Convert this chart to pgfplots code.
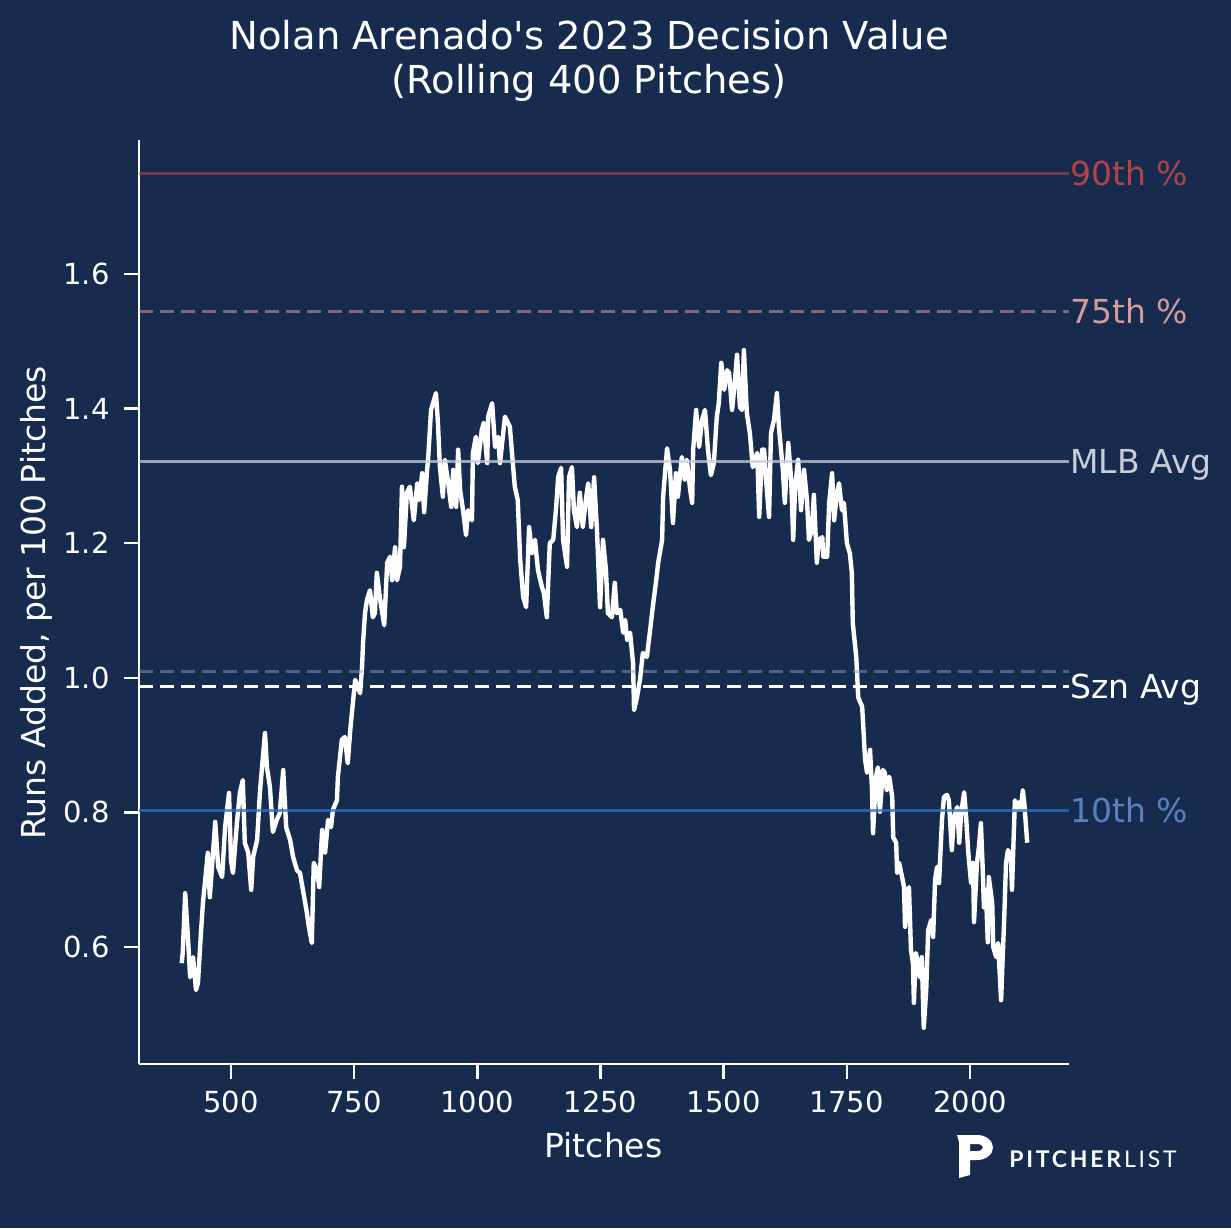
\documentclass[border=0pt]{standalone}
\usepackage{fontspec}
\setmainfont{DejaVu Sans}[Ligatures=TeXOff]
\newfontfamily\logofont[LetterSpace=12]{Lato}
\usepackage{pgfplots}
\pgfplotsset{compat=1.18}
\definecolor{bg}{RGB}{23,43,79}
\definecolor{ninetxt}{RGB}{178,68,72}
\definecolor{sevtxt}{RGB}{213,155,155}
\definecolor{mlbtxt}{RGB}{200,205,215}
\definecolor{tentxt}{RGB}{90,128,192}
\definecolor{tenline}{RGB}{50,110,200}
\definecolor{refline}{RGB}{130,155,200}
\begin{document}
\begin{tikzpicture}
\fill[bg] (0pt,0pt) rectangle (615.5pt,614pt);
\begin{axis}[
  at={(69.5pt,82pt)}, anchor=south west,
  scale only axis, width=465pt, height=462pt,
  xmin=313.3, xmax=2200.8, ymin=0.4262, ymax=1.7991,
  clip=false,
  axis x line*=bottom, axis y line*=left,
  axis line style={white, line width=1.25pt},
  every tick/.style={white, line width=1.25pt},
  tick align=outside, major tick length=7.5pt,
  xtick={500,750,1000,1250,1500,1750,2000},
  ytick={0.6,0.8,1.0,1.2,1.4,1.6},
  /pgf/number format/assume math mode=true,
  xticklabel style={font=\fontsize{14.5}{17}\selectfont, text=white, anchor=north, inner sep=0pt, yshift=-5.8pt,
    /pgf/number format/1000 sep={}},
  yticklabel style={font=\fontsize{14.5}{17}\selectfont, text=white, anchor=east, inner sep=0pt, xshift=-7pt,
    /pgf/number format/.cd, fixed, fixed zerofill, precision=1},
]
\addplot[white, line width=2.2pt, line join=round] coordinates {
(400,0.576) (402,0.591) (407,0.680) (413,0.610) (417,0.555) (423,0.585) (429,0.536) (433,0.547)
(439,0.621) (443,0.665) (453,0.740) (457,0.674) (468,0.786) (474,0.719) (482,0.704) (488,0.778)
(496,0.829) (500,0.729) (504,0.710) (512,0.784) (518,0.829) (524,0.848) (528,0.755) (535,0.740)
(541,0.685) (545,0.734) (553,0.759) (559,0.833) (569,0.918) (573,0.867) (579,0.838) (585,0.771)
(593,0.789) (599,0.799) (606,0.863) (612,0.778) (620,0.759) (626,0.734) (634,0.714) (640,0.710)
(646,0.685) (654,0.651) (658,0.630) (664,0.606) (668,0.725) (675,0.714) (679,0.689) (685,0.774)
(691,0.740) (697,0.789) (703,0.778) (707,0.804) (715,0.818) (717,0.853) (725,0.908) (731,0.912)
(737,0.873) (742,0.922) (748,0.967) (752,0.997) (762,0.977) (766,1.016) (768,1.052) (772,1.096)
(776,1.116) (782,1.130) (788,1.090) (792,1.096) (796,1.156) (802,1.120) (811,1.078) (817,1.171)
(823,1.180) (827,1.145) (833,1.194) (837,1.145) (843,1.165) (847,1.284) (851,1.194) (857,1.275)
(863,1.284) (871,1.234) (878,1.289) (882,1.264) (888,1.304) (892,1.246) (898,1.309) (900,1.324)
(906,1.398) (910,1.408) (916,1.423) (920,1.379) (924,1.313) (930,1.269) (934,1.324) (940,1.294)
(947,1.254) (951,1.309) (957,1.254) (961,1.339) (965,1.279) (971,1.249) (977,1.212) (981,1.249)
(989,1.234) (991,1.334) (997,1.358) (1001,1.319) (1009,1.368) (1013,1.379) (1020,1.319) (1022,1.388)
(1030,1.408) (1036,1.343) (1042,1.358) (1046,1.319) (1056,1.388) (1066,1.373) (1072,1.319) (1076,1.284)
(1082,1.264) (1087,1.175) (1093,1.120) (1099,1.105) (1105,1.224) (1111,1.185) (1117,1.205) (1123,1.160)
(1131,1.135) (1135,1.126) (1141,1.090) (1147,1.200) (1154,1.205) (1160,1.254) (1164,1.298) (1170,1.312)
(1174,1.205) (1182,1.165) (1186,1.298) (1192,1.313) (1196,1.249) (1202,1.224) (1208,1.275) (1214,1.224)
(1221,1.269) (1225,1.289) (1231,1.224) (1237,1.298) (1243,1.215) (1249,1.105) (1255,1.205) (1261,1.160)
(1265,1.096) (1273,1.090) (1279,1.141) (1283,1.096) (1290,1.101) (1296,1.067) (1300,1.086) (1304,1.056)
(1310,1.067) (1316,1.022) (1318,0.952) (1324,0.971) (1330,0.997) (1336,1.037) (1344,1.031) (1350,1.067)
(1356,1.105) (1363,1.145) (1367,1.171) (1375,1.205) (1377,1.269) (1385,1.341) (1391,1.309) (1397,1.230)
(1403,1.304) (1407,1.269) (1415,1.328) (1421,1.294) (1425,1.324) (1432,1.279) (1436,1.260) (1438,1.339)
(1444,1.398) (1450,1.343) (1456,1.383) (1462,1.398) (1468,1.339) (1474,1.301) (1480,1.319) (1486,1.388)
(1490,1.408) (1495,1.468) (1501,1.428) (1507,1.457) (1511,1.453) (1517,1.398) (1523,1.443) (1527,1.480)
(1533,1.402) (1537,1.398) (1541,1.487) (1547,1.393) (1553,1.364) (1559,1.313) (1568,1.334) (1572,1.239)
(1578,1.339) (1582,1.339) (1586,1.294) (1592,1.239) (1596,1.364) (1602,1.383) (1608,1.423) (1612,1.373)
(1620,1.309) (1624,1.260) (1631,1.349) (1637,1.294) (1641,1.205) (1645,1.284) (1651,1.324) (1657,1.249)
(1663,1.309) (1669,1.264) (1673,1.205) (1679,1.220) (1683,1.272) (1689,1.171) (1693,1.205) (1700,1.209)
(1702,1.180) (1710,1.180) (1714,1.260) (1720,1.304) (1724,1.234) (1730,1.275) (1734,1.289) (1740,1.249)
(1744,1.260) (1750,1.200) (1756,1.185) (1760,1.156) (1762,1.081) (1769,1.031) (1773,0.971) (1781,0.957)
(1787,0.878) (1791,0.859) (1797,0.893) (1801,0.833) (1803,0.769) (1809,0.853) (1813,0.867) (1817,0.801)
(1823,0.863) (1827,0.859) (1831,0.833) (1836,0.853) (1842,0.823) (1844,0.763) (1850,0.755) (1852,0.710)
(1856,0.725) (1862,0.704) (1866,0.689) (1868,0.630) (1872,0.674) (1876,0.689) (1880,0.596) (1884,0.576)
(1886,0.517) (1890,0.591) (1894,0.576) (1898,0.555) (1902,0.585) (1906,0.480) (1911,0.536) (1915,0.625)
(1921,0.640) (1925,0.615) (1929,0.700) (1933,0.719) (1937,0.695) (1943,0.789) (1947,0.823) (1953,0.826)
(1957,0.818) (1963,0.744) (1967,0.793) (1974,0.808) (1978,0.755) (1982,0.799) (1988,0.830) (1992,0.793)
(1996,0.744) (2002,0.695) (2006,0.725) (2008,0.637) (2014,0.725) (2018,0.749) (2022,0.784) (2026,0.710)
(2028,0.659) (2032,0.685) (2036,0.607) (2038,0.704) (2045,0.665) (2047,0.600) (2053,0.585) (2057,0.606)
(2059,0.576) (2063,0.521) (2067,0.600) (2069,0.636) (2073,0.725) (2077,0.744) (2083,0.734) (2085,0.685)
(2089,0.774) (2091,0.818) (2095,0.804) (2099,0.815) (2103,0.804) (2107,0.833) (2110,0.814) (2116,0.755)
};
\addplot[ninetxt, opacity=0.6, line width=1.5pt] coordinates {(313.3,1.749) (2200.8,1.749)};
\addplot[sevtxt, opacity=0.55, line width=1.5pt, dash pattern=on 7pt off 3.5pt] coordinates {(313.3,1.545) (2200.8,1.545)};
\addplot[mlbtxt, opacity=0.75, line width=1.5pt] coordinates {(313.3,1.321) (2200.8,1.321)};
\addplot[refline, opacity=0.5, line width=1.5pt, dash pattern=on 7pt off 3.5pt] coordinates {(313.3,1.010) (2200.8,1.010)};
\addplot[white, line width=1.5pt, dash pattern=on 7pt off 3.5pt] coordinates {(313.3,0.9865) (2200.8,0.9865)};
\addplot[tenline, opacity=0.75, line width=1.5pt] coordinates {(313.3,0.8035) (2200.8,0.8035)};
\node[anchor=base west, inner sep=0pt, text=ninetxt, font=\fontsize{16.5}{19}\selectfont] at (axis cs:2200.8,1.749) [xshift=0.5pt, yshift=-6pt] {90th \%};
\node[anchor=base west, inner sep=0pt, text=sevtxt, font=\fontsize{16.5}{19}\selectfont] at (axis cs:2200.8,1.545) [xshift=0.5pt, yshift=-6pt] {75th \%};
\node[anchor=base west, inner sep=0pt, text=mlbtxt, font=\fontsize{16.5}{19}\selectfont] at (axis cs:2200.8,1.321) [xshift=0.5pt, yshift=-6pt] {MLB Avg};
\node[anchor=base west, inner sep=0pt, text=white, font=\fontsize{16.5}{19}\selectfont] at (axis cs:2200.8,0.9865) [xshift=0.5pt, yshift=-6pt] {Szn Avg};
\node[anchor=base west, inner sep=0pt, text=tentxt, font=\fontsize{16.5}{19}\selectfont] at (axis cs:2200.8,0.8035) [xshift=0.5pt, yshift=-6pt] {10th \%};
\end{axis}
\node[anchor=base, inner sep=0pt, text=white, font=\fontsize{19.25}{23}\selectfont] at (294.5pt,589pt) {Nolan Arenado's 2023 Decision Value};
\node[anchor=base, inner sep=0pt, text=white, font=\fontsize{19.25}{23}\selectfont] at (294.5pt,567pt) {(Rolling 400 Pitches)};
\node[anchor=base, inner sep=0pt, text=white, font=\fontsize{16.5}{19}\selectfont] at (301.75pt,35.5pt) {Pitches};
\node[anchor=base, inner sep=0pt, rotate=90, text=white, font=\fontsize{16.5}{19}\selectfont] at (23pt,312.5pt) {Runs Added, per 100 Pitches};
\fill[white, even odd rule] (478.5pt,46.5pt) -- (488.5pt,46.5pt) arc[start angle=90,end angle=-90,x radius=8pt,y radius=6.25pt] -- (485pt,34pt) -- (485pt,26.5pt) -- (479.5pt,25pt) -- (479.5pt,43pt) -- cycle
  (485pt,42pt) -- (488.5pt,42pt) arc[start angle=90,end angle=-90,x radius=3pt,y radius=1.75pt] -- (485pt,38.5pt) -- cycle;
\node[anchor=base west, inner sep=0pt, text=white, font=\logofont\fontsize{11.5}{13}\selectfont] at (504.5pt,30.5pt) {\textbf{PITCHER}LIST};
\end{tikzpicture}
\end{document}
